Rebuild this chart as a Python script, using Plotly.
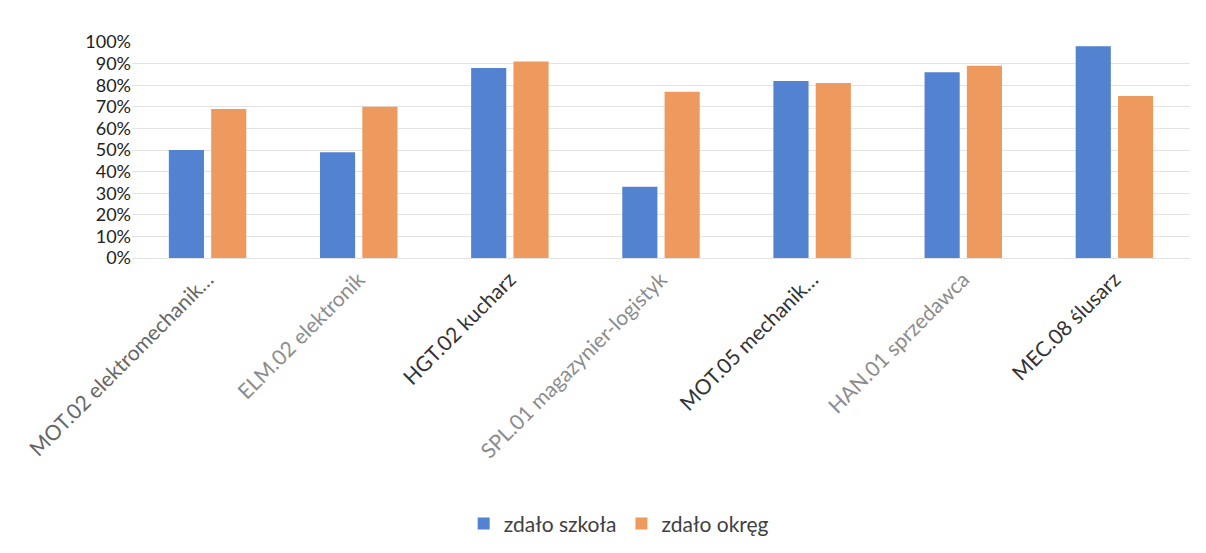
import plotly.graph_objects as go

# --- data ---
categories = [
    "MOT.02 elektromechanik…",
    "ELM.02 elektronik",
    "HGT.02 kucharz",
    "SPL.01 magazynier-logistyk",
    "MOT.05 mechanik…",
    "HAN.01 sprzedawca",
    "MEC.08 ślusarz",
]
zdalo_szkola = [0.50, 0.49, 0.88, 0.33, 0.82, 0.86, 0.98]
zdalo_okreg = [0.69, 0.70, 0.91, 0.77, 0.81, 0.89, 0.75]

BLUE = "#5282D0"
ORANGE = "#EE9A5E"
GRID = "#E3E3E3"
TEXT = "#404040"
FONT = "Lato, 'Open Sans', sans-serif"

# scanned page: some labels came out lighter than others
label_colors = ["#666666", "#8C8C8C", "#333333", "#8C8C8C", "#333333", "#8C8C8C", "#333333"]
ticktext = [f"<span style='color:{c}'>{t}</span>" for t, c in zip(categories, label_colors)]

fig = go.Figure()
fig.add_trace(go.Bar(x=categories, y=zdalo_szkola, name="zdało szkoła",
                     marker=dict(color=BLUE, line=dict(width=0))))
fig.add_trace(go.Bar(x=categories, y=zdalo_okreg, name="zdało okręg",
                     marker=dict(color=ORANGE, line=dict(width=0))))

fig.update_layout(
    width=1198, height=545,
    paper_bgcolor="white", plot_bgcolor="white",
    font=dict(family=FONT, color=TEXT, size=21),
    margin=dict(l=124, r=16, t=34, b=294),
    barmode="group", bargap=0.44, bargroupgap=0.17,
    showlegend=True,
    legend=dict(orientation="h", x=0.46, xanchor="center", y=-1.22, yanchor="middle",
                font=dict(size=21, color=TEXT), itemwidth=30,
                bgcolor="rgba(0,0,0,0)"),
    xaxis=dict(tickangle=-45, showgrid=False, showline=True, linecolor=GRID,
               ticks="", tickvals=categories, ticktext=ticktext,
               tickfont=dict(size=21, color=TEXT)),
    yaxis=dict(range=[0, 1], dtick=0.1, tickformat=".0%", gridcolor=GRID,
               zeroline=False, showline=False, ticks="",
               tickfont=dict(size=18, color="#222222")),
)

fig.write_html("out.html")
